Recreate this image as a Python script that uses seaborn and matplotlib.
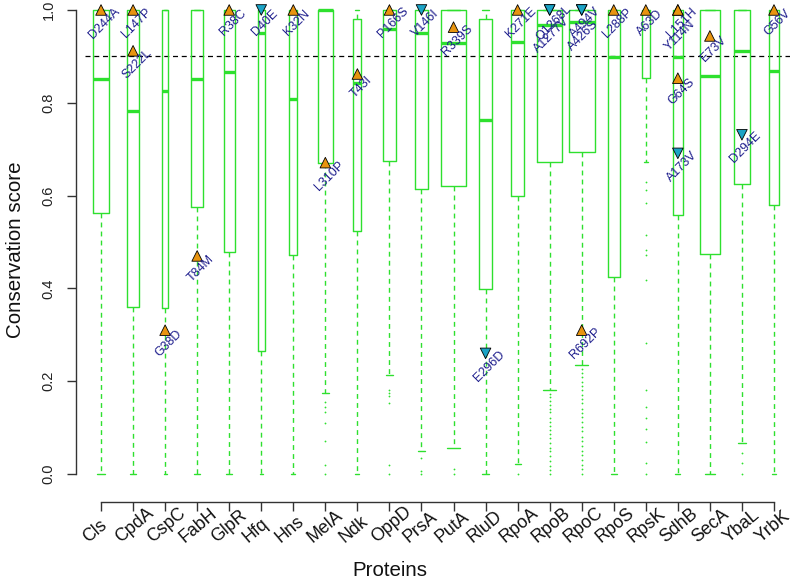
import numpy as np
import pandas as pd
import matplotlib
matplotlib.use("Agg")
import matplotlib.pyplot as plt
from matplotlib.transforms import ScaledTranslation
import seaborn as sns

# ---------------- data ----------------
proteins = ['Cls', 'CpdA', 'CspC', 'FabH', 'GlpR', 'Hfq', 'Hns', 'MelA', 'Ndk', 'OppD', 'PrsA',
            'PutA', 'RluD', 'RpoA', 'RpoB', 'RpoC', 'RpoS', 'RpsK', 'SdhB', 'SecA', 'YbaL', 'YrbK']
n_residues = [486, 275, 69, 317, 252, 102, 137, 451, 143, 337, 315,
              1320, 326, 329, 1342, 1407, 330, 129, 238, 901, 558, 191]
q1 = [0.562, 0.361, 0.358, 0.575, 0.479, 0.265, 0.473, 0.670, 0.524, 0.675, 0.614,
      0.621, 0.398, 0.600, 0.672, 0.693, 0.424, 0.854, 0.558, 0.474, 0.626, 0.580]
median = [0.851, 0.782, 0.826, 0.852, 0.866, 0.950, 0.808, 1.000, 0.843, 0.960, 0.950,
          0.928, 0.763, 0.930, 0.968, 0.974, 0.899, 0.993, 0.899, 0.858, 0.912, 0.868]
q3 = [1.0, 1.0, 1.0, 1.0, 1.0, 1.0, 1.0, 1.0, 0.981, 1.0, 1.0,
      1.0, 0.981, 1.0, 1.0, 1.0, 1.0, 1.0, 1.0, 1.0, 1.0, 1.0]
whisker_low = [0.0, 0.0, 0.0, 0.0, 0.0, 0.0, 0.0, 0.174, 0.0, 0.213, 0.050,
               0.056, 0.0, 0.021, 0.181, 0.235, 0.0, 0.673, 0.0, 0.0, 0.066, 0.0]
whisker_high = [1.0] * 22

outliers_MelA = [0.156, 0.145, 0.134, 0.111, 0.072, 0.019, 0.0]
outliers_OppD = [0.181, 0.175, 0.168, 0.154, 0.019, 0.0]
outliers_PrsA = [0.034, 0.007, 0.0]
outliers_PutA = [0.010, 0.0]
outliers_RpoA = [0.0]
outliers_RpoB = [0.172, 0.165, 0.158, 0.149, 0.141, 0.133, 0.121, 0.112, 0.104, 0.095,
                 0.086, 0.078, 0.066, 0.057, 0.049, 0.038, 0.029, 0.018, 0.009, 0.0]
outliers_RpoC = [0.226, 0.218, 0.209, 0.198, 0.190, 0.181, 0.170, 0.161, 0.152, 0.140,
                 0.131, 0.122, 0.113, 0.101, 0.092, 0.080, 0.071, 0.060, 0.049, 0.040,
                 0.031, 0.019, 0.010, 0.0]
outliers_RpsK = [0.630, 0.612, 0.583, 0.515, 0.483, 0.472, 0.418, 0.283, 0.181, 0.145,
                 0.120, 0.098, 0.070, 0.023, 0.0]
outliers_YbaL = [0.045, 0.023, 0.0]

mut_protein = ['Cls', 'CpdA', 'CpdA', 'CspC', 'FabH', 'GlpR', 'Hfq', 'Hns', 'MelA', 'Ndk',
               'OppD', 'PrsA', 'PutA', 'RluD', 'RpoA', 'RpoB', 'RpoB', 'RpoC', 'RpoC', 'RpoC',
               'RpoS', 'RpsK', 'SdhB', 'SdhB', 'SdhB', 'SdhB', 'SecA', 'YbaL', 'YrbK']
mut_label = ['D244A', 'L147P', 'S222L', 'G38D', 'T84M', 'R38C', 'D40E', 'K32N', 'L310P', 'T43I',
             'P166S', 'V146I', 'R339S', 'E296D', 'K271E', 'Q1268L', 'A1277V', 'A494V', 'A426S', 'R692P',
             'L288P', 'A63D', 'L151H', 'Y114N', 'G64S', 'A173V', 'E73V', 'D294E', 'G56V']
mut_score = [1.0, 1.0, 0.912, 0.310, 0.470, 1.0, 1.0, 1.0, 0.671, 0.862,
             1.0, 1.0, 0.963, 0.260, 1.0, 1.0, 1.0, 1.0, 1.0, 0.310,
             1.0, 1.0, 1.0, 1.0, 0.853, 0.691, 0.944, 0.731, 1.0]
mut_effect = ['up', 'up', 'up', 'up', 'up', 'up', 'down', 'up', 'up', 'up',
              'up', 'down', 'up', 'down', 'up', 'down', 'down', 'down', 'down', 'up',
              'up', 'up', 'up', 'up', 'up', 'down', 'up', 'down', 'up']

outliers = {'MelA': outliers_MelA, 'OppD': outliers_OppD, 'PrsA': outliers_PrsA,
            'PutA': outliers_PutA, 'RpoA': outliers_RpoA, 'RpoB': outliers_RpoB,
            'RpoC': outliers_RpoC, 'RpsK': outliers_RpsK, 'YbaL': outliers_YbaL}

# ---------------- style ----------------
sns.set_theme(style='ticks')
plt.rcParams['font.family'] = ['Liberation Sans', 'DejaVu Sans']

GREEN = '#2EE02E'
ORANGE = '#E8940F'
CYAN = '#1BA3C6'
NAVY = '#1C1C8C'
AXC = '#333333'

W, H, DPI = 800, 583, 100
fig = plt.figure(figsize=(W / DPI, H / DPI), dpi=DPI)
# axes: x -0.5 -> 85 px, 21.5 -> 790 px ; y -0.04 -> 492.6 px, 1.04 -> -8.6 px
ax = fig.add_axes([85 / W, (H - 492.6) / H, 705 / W, 501.2 / H])
ax.set_facecolor('white')

pos = np.arange(len(proteins))
nr = np.array(n_residues, dtype=float)
widths = 0.8 * np.sqrt(nr / nr.max())

stats = []
for i, p in enumerate(proteins):
    stats.append(dict(med=median[i], q1=q1[i], q3=q3[i], whislo=whisker_low[i],
                      whishi=whisker_high[i], fliers=outliers.get(p, []), label=p))

ax.axhline(0.9, color='black', lw=0.9, linestyle=(0, (4, 3)), zorder=1)

ax.bxp(stats, positions=pos, widths=widths, capwidths=widths * 0.5, showfliers=True,
       patch_artist=False, manage_ticks=False,
       boxprops=dict(color=GREEN, lw=1.0),
       medianprops=dict(color=GREEN, lw=2.4, solid_capstyle='butt'),
       whiskerprops=dict(color=GREEN, lw=1.0, linestyle=(0, (3.5, 3))),
       capprops=dict(color=GREEN, lw=1.0),
       flierprops=dict(marker='.', markersize=2.6, markerfacecolor=GREEN,
                       markeredgecolor='none', linestyle='none'))

# mutations
mdf = pd.DataFrame({'protein': mut_protein, 'label': mut_label,
                    'score': mut_score, 'effect': mut_effect})
mdf['pos'] = mdf['protein'].map({p: i for i, p in enumerate(proteins)})
sns.scatterplot(data=mdf, x='pos', y='score', hue='effect', style='effect',
                markers={'up': '^', 'down': 'v'}, palette={'up': ORANGE, 'down': CYAN},
                s=58, edgecolor='black', linewidth=0.6, legend=False, ax=ax, zorder=5,
                clip_on=False)
ax.set_xlabel('')
ax.set_ylabel('')

stack = mdf.groupby(['protein', 'score']).cumcount()
for (_, r), k in zip(mdf.iterrows(), stack):
    off = (2.8, -9.4) if k == 0 else (1.2, -18.4)
    ax.annotate(r['label'], (r['pos'], r['score']), xytext=off, textcoords='offset points',
                rotation=45, ha='center', va='center', fontsize=9.0, color=NAVY,
                zorder=6, annotation_clip=False)

# axes
ax.set_xlim(-0.5, 21.5)
ax.set_ylim(-0.04, 1.04)
for s in ['top', 'right']:
    ax.spines[s].set_visible(False)
ax.spines['left'].set_position(('outward', 6.5))
ax.spines['bottom'].set_position(('outward', 6.8))
ax.spines['left'].set_bounds(0, 1)
ax.spines['bottom'].set_bounds(0, 21)
for s in ['left', 'bottom']:
    ax.spines[s].set_color(AXC)
    ax.spines[s].set_linewidth(1.0)

yt = [0.0, 0.2, 0.4, 0.6, 0.8, 1.0]
ax.set_yticks(yt)
ax.set_yticklabels([f'{v:.1f}' for v in yt], rotation=90, va='center')
ax.tick_params(axis='y', length=6.5, width=1.0, color=AXC, pad=8, labelsize=10.5,
               labelcolor='#222222')
ax.set_xticks(pos)
ax.set_xticklabels([])
ax.tick_params(axis='x', length=6.8, width=1.0, color=AXC)

lab_tr = ax.get_xaxis_transform() + ScaledTranslation(-13 / DPI, -(543 - 492.6) / DPI,
                                                      fig.dpi_scale_trans)
for i, p in enumerate(proteins):
    ax.text(i, 0, p, transform=lab_tr, rotation=40, rotation_mode='anchor',
            ha='left', va='baseline', fontsize=12.8, color='#111111', clip_on=False)

fig.text(16 / W, 1 - 250 / H, 'Conservation score', rotation=90, ha='center', va='center',
         fontsize=14.8, color='#111111')
fig.text(390 / W, 1 - 571 / H, 'Proteins', ha='center', va='center', fontsize=14.8,
         color='#111111')

fig.savefig('out.png', dpi=DPI, facecolor='white')
